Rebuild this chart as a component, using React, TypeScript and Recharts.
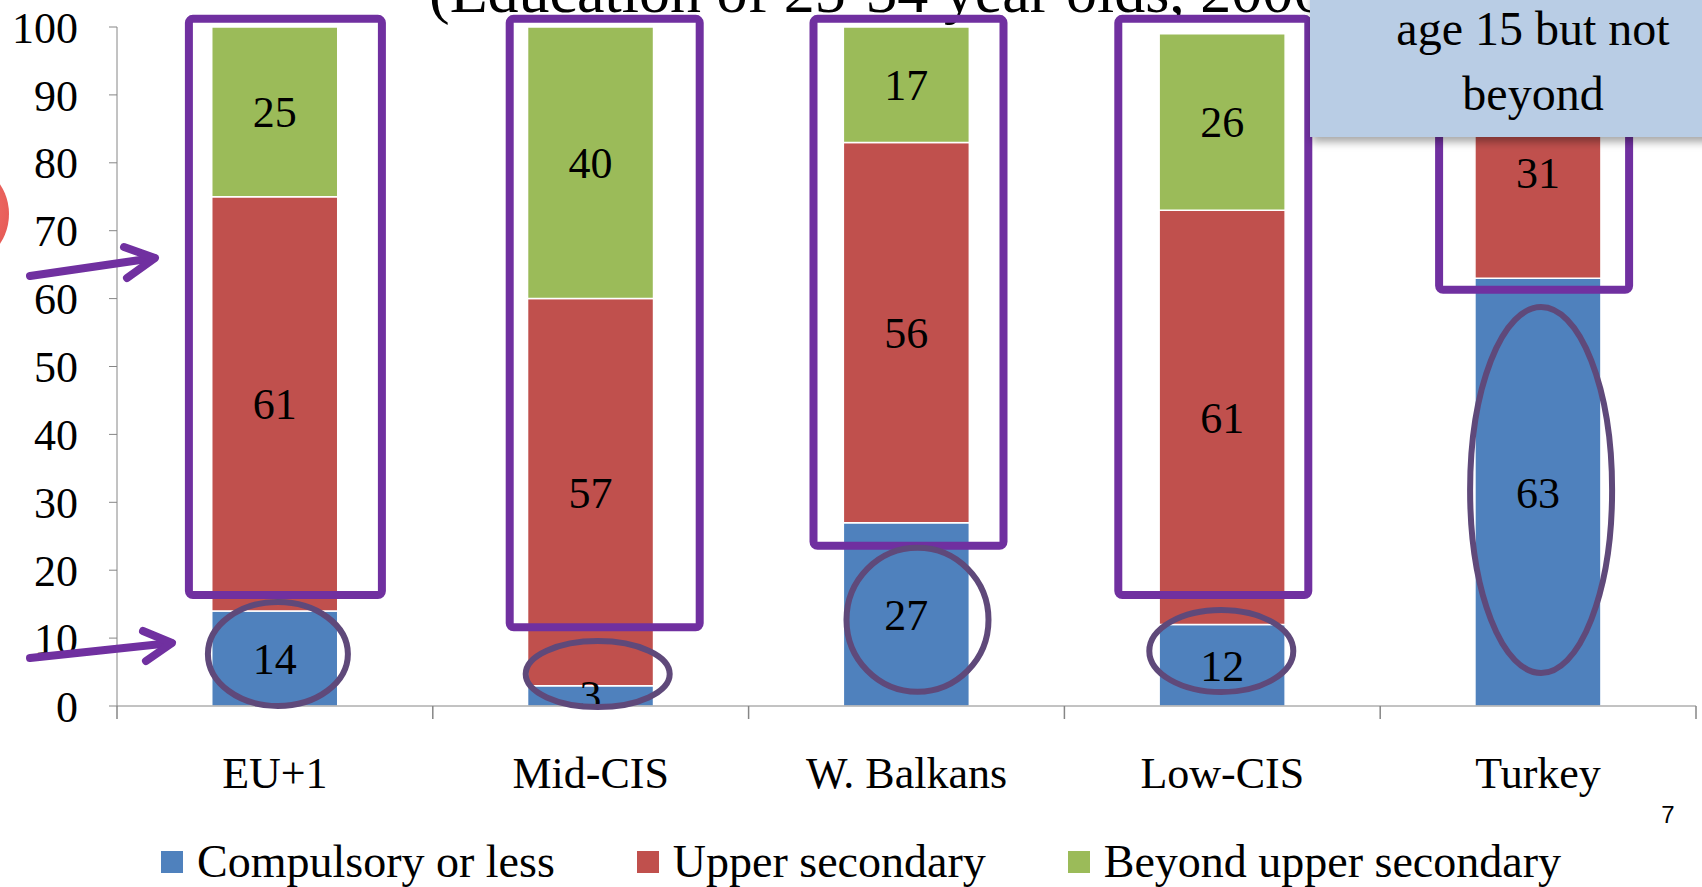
import React from 'react';
import { BarChart, Bar, XAxis, YAxis, Legend, LabelList } from 'recharts';

// --- data -------------------------------------------------------------------

const categories = ['EU+1', 'Mid-CIS', 'W. Balkans', 'Low-CIS', 'Turkey'];
const seriesNames = ['Compulsory or less', 'Upper secondary', 'Beyond upper secondary'];
const compulsoryOrLess = [14, 3, 27, 12, 63];
const upperSecondary = [61, 57, 56, 61, 31];
const beyondUpperSecondary = [25, 40, 17, 26, 6];
const yTicks = [0, 10, 20, 30, 40, 50, 60, 70, 80, 90, 100];

const rows = categories.map((name, i) => ({
  name,
  compulsory: compulsoryOrLess[i],
  upper: upperSecondary[i],
  beyond: beyondUpperSecondary[i],
}));

// --- layout -----------------------------------------------------------------

const W = 1702;
const H = 887;
const PLOT_LEFT = 117;
const PLOT_TOP = 27;
const PLOT_RIGHT = 1696;
const PLOT_BOTTOM = 706;
const PLOT_W = PLOT_RIGHT - PLOT_LEFT;
const PLOT_H = PLOT_BOTTOM - PLOT_TOP;
const BAND = PLOT_W / categories.length;

const SERIF = '"Liberation Serif", "Times New Roman", serif';
const AXIS_GREY = '#868686';
const PURPLE = '#7030a0';
const PLUM = '#5f497a';

// same mapping the chart uses, for the hand-drawn highlights on top
const xPx = (cat: number, dx = 0) => PLOT_LEFT + BAND * (cat + 0.5) + dx;
const yPx = (v: number) => PLOT_TOP + PLOT_H * (1 - v / 100);

// boxes: category, left/right offset from band centre (px), top/bottom value
const boxes = [
  { cat: 0, l: -86, r: 107, top: 101.2, bottom: 16.35 },
  { cat: 1, l: -81, r: 109, top: 101.2, bottom: 11.6 },
  { cat: 2, l: -93, r: 97, top: 101.2, bottom: 23.6 },
  { cat: 3, l: -104, r: 86, top: 101.2, bottom: 16.35 },
  { cat: 4, l: -99, r: 91, top: 101.2, bottom: 61.3 },
];

// rings round the "compulsory or less" segments
const rings = [
  { cat: 0, dx: 3, v: 7.66, rx: 70, ry: 52 },
  { cat: 1, dx: 7, v: 4.7, rx: 72, ry: 33 },
  { cat: 2, dx: 11, v: 12.7, rx: 71, ry: 72 },
  { cat: 3, dx: -1, v: 8.1, rx: 72, ry: 41 },
  { cat: 4, dx: 3, v: 31.8, rx: 71, ry: 183 },
];

// --- pieces -----------------------------------------------------------------

const SegmentLabel = (props: any) => {
  const { x, y, width, height, value } = props;
  const id = `clip-${Math.round(x)}-${Math.round(y)}`;
  return (
    <g>
      <defs>
        <clipPath id={id}>
          <rect x={PLOT_LEFT} y={0} width={PLOT_W} height={PLOT_BOTTOM} />
        </clipPath>
      </defs>
      <text
        x={x + width / 2}
        y={y + height / 2}
        dy="0.35em"
        textAnchor="middle"
        fontFamily={SERIF}
        fontSize={44}
        fill="#000"
        clipPath={`url(#${id})`}
      >
        {value}
      </text>
    </g>
  );
};

const CategoryTick = (props: any) => {
  const { x, payload, index } = props;
  const last = index === categories.length - 1;
  return (
    <g>
      <line x1={x - BAND / 2} x2={x - BAND / 2} y1={PLOT_BOTTOM} y2={PLOT_BOTTOM + 13} stroke={AXIS_GREY} strokeWidth={1.5} />
      {last && <line x1={x + BAND / 2} x2={x + BAND / 2} y1={PLOT_BOTTOM} y2={PLOT_BOTTOM + 13} stroke={AXIS_GREY} strokeWidth={1.5} />}
      <text x={x} y={PLOT_BOTTOM + 82} textAnchor="middle" fontFamily={SERIF} fontSize={44} fill="#000">
        {payload.value}
      </text>
    </g>
  );
};

const LegendRow = ({ payload }: any) => {
  // keep the series order (legend would otherwise be sorted by name)
  const items = [...(payload || [])].sort(
    (a: any, b: any) => seriesNames.indexOf(a.value) - seriesNames.indexOf(b.value),
  );
  return (
    <div style={{ display: 'flex', alignItems: 'center', paddingLeft: 161, height: 80, paddingTop: 30, boxSizing: 'border-box' }}>
      {items.map((entry: any, i: number) => (
        <div key={i} style={{ display: 'flex', alignItems: 'center', marginRight: 82 }}>
          <span style={{ width: 22, height: 22, background: entry.color, marginRight: 14, display: 'inline-block' }} />
          <span style={{ fontFamily: SERIF, fontSize: 46, lineHeight: '46px', color: '#000' }}>{entry.value}</span>
        </div>
      ))}
    </div>
  );
};

const Highlights = () => (
  <svg width={W} height={H} style={{ position: 'absolute', left: 0, top: 0, pointerEvents: 'none' }}>
    <defs>
      <filter id="calloutShadow" x="-10%" y="-10%" width="130%" height="140%">
        <feDropShadow dx="2" dy="5" stdDeviation="4" floodColor="#000" floodOpacity="0.35" />
      </filter>
      <radialGradient id="redDot" cx="60%" cy="45%" r="60%">
        <stop offset="0%" stopColor="#f47a74" />
        <stop offset="100%" stopColor="#e2504b" />
      </radialGradient>
    </defs>

    <text x={429} y={12} fontFamily={SERIF} fontSize={62} fill="#000">
      (Education of 25-34 year olds, 2006)
    </text>

    {boxes.map((b, i) => (
      <rect
        key={`box-${i}`}
        x={xPx(b.cat, b.l)}
        y={yPx(b.top)}
        width={b.r - b.l}
        height={yPx(b.bottom) - yPx(b.top)}
        rx={4}
        fill="none"
        stroke={PURPLE}
        strokeWidth={8}
      />
    ))}

    {rings.map((r, i) => (
      <ellipse key={`ring-${i}`} cx={xPx(r.cat, r.dx)} cy={yPx(r.v)} rx={r.rx} ry={r.ry} fill="none" stroke={PLUM} strokeWidth={6} />
    ))}

    <g stroke={PURPLE} strokeWidth={8} strokeLinecap="round" strokeLinejoin="round" fill="none">
      <line x1={30} y1={276} x2={154} y2={258} />
      <polyline points="124,247 155,258 127,278" />
      <line x1={30} y1={658} x2={171} y2={643} />
      <polyline points="143,631 172,643 146,661" />
    </g>

    <circle cx={-45} cy={214} r={54} fill="url(#redDot)" />

    <rect x={1310} y={-10} width={420} height={147} fill="#b9cde5" filter="url(#calloutShadow)" />
    <text x={1533} y={45} textAnchor="middle" fontFamily={SERIF} fontSize={48} fill="#000">
      age 15 but not
    </text>
    <text x={1533} y={110} textAnchor="middle" fontFamily={SERIF} fontSize={48} fill="#000">
      beyond
    </text>

    <text x={1668} y={823} textAnchor="middle" fontFamily='"Liberation Sans", Arial, sans-serif' fontSize={24} fill="#000">
      7
    </text>
  </svg>
);

// --- chart ------------------------------------------------------------------

export default function App() {
  return (
    <div style={{ position: 'absolute', left: 0, top: 0, width: W, height: H, background: '#fff', overflow: 'hidden' }}>
      <BarChart
        width={W}
        height={H}
        data={rows}
        margin={{ top: PLOT_TOP, right: W - PLOT_RIGHT, left: 0, bottom: 0 }}
        barCategoryGap="30%"
      >
        <YAxis
          width={PLOT_LEFT}
          domain={[0, 100]}
          ticks={yTicks}
          interval={0}
          tickSize={8}
          tickMargin={31}
          stroke={AXIS_GREY}
          tick={{ fill: '#000', fontSize: 44, fontFamily: SERIF }}
        />
        <XAxis
          dataKey="name"
          height={101}
          tickLine={false}
          stroke={AXIS_GREY}
          interval={0}
          tick={<CategoryTick />}
        />
        <Legend verticalAlign="bottom" height={80} content={<LegendRow />} />
        <Bar dataKey="compulsory" name={seriesNames[0]} stackId="edu" fill="#4f81bd" stroke="#fff" strokeWidth={1.5} isAnimationActive={false}>
          <LabelList dataKey="compulsory" content={<SegmentLabel />} />
        </Bar>
        <Bar dataKey="upper" name={seriesNames[1]} stackId="edu" fill="#c0504d" stroke="#fff" strokeWidth={1.5} isAnimationActive={false}>
          <LabelList dataKey="upper" content={<SegmentLabel />} />
        </Bar>
        <Bar dataKey="beyond" name={seriesNames[2]} stackId="edu" fill="#9bbb59" stroke="#fff" strokeWidth={1.5} isAnimationActive={false}>
          <LabelList dataKey="beyond" content={<SegmentLabel />} />
        </Bar>
      </BarChart>
      <Highlights />
    </div>
  );
}
